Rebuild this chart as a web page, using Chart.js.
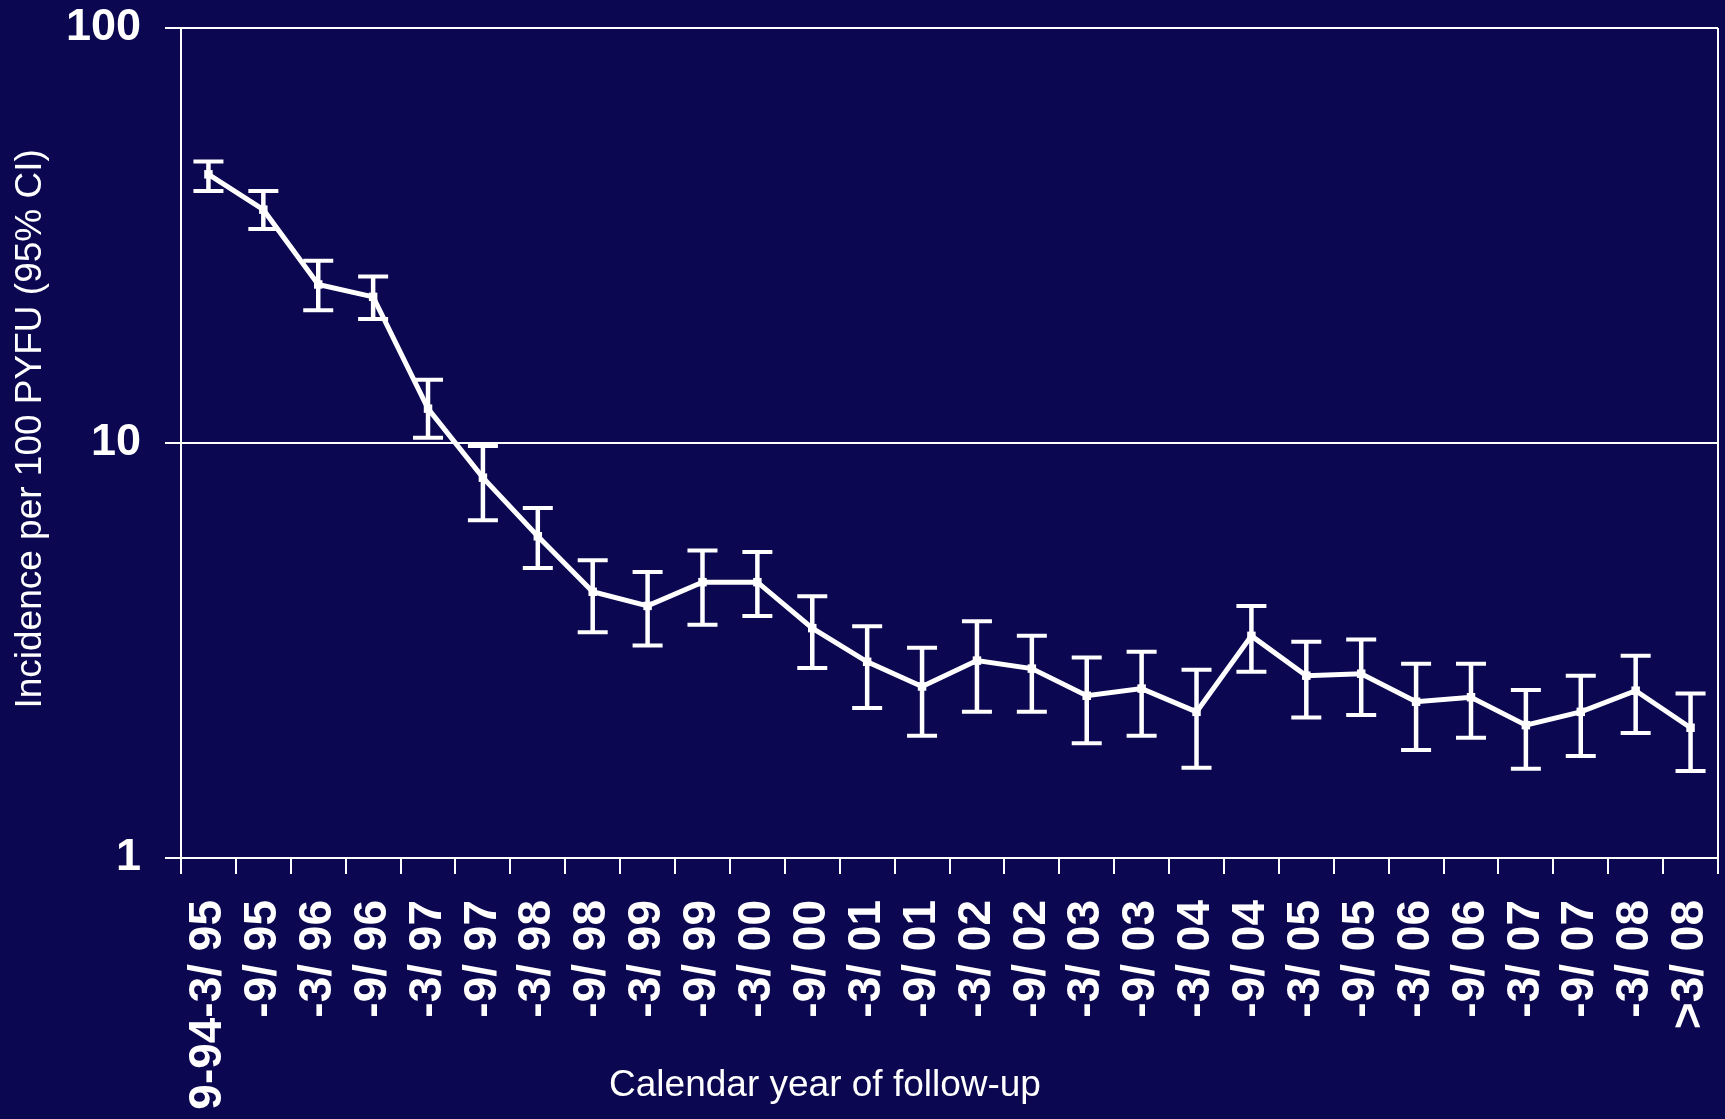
<!DOCTYPE html>
<html>
<head>
<meta charset="utf-8">
<script src="https://cdn.jsdelivr.net/npm/chart.js@4/dist/chart.umd.min.js"></script>
<style>
    html, body { margin: 0; padding: 0; background: #0b0750; }
    #wrap { width: 1725px; height: 1119px; position: relative; }
</style>
</head>
<body>
<div id="wrap"><canvas id="incidenceChart"></canvas></div>
<script>

const periods = [
    "9-94-3/ 95", "-9/ 95", "-3/ 96", "-9/ 96", "-3/ 97", "-9/ 97", "-3/ 98",
    "-9/ 98", "-3/ 99", "-9/ 99", "-3/ 00", "-9/ 00", "-3/ 01", "-9/ 01",
    "-3/ 02", "-9/ 02", "-3/ 03", "-9/ 03", "-3/ 04", "-9/ 04", "-3/ 05",
    "-9/ 05", "-3/ 06", "-9/ 06", "-3/ 07", "-9/ 07", "-3/ 08", ">3/ 08"
];

const incidence = [
    44.4, 36.5, 24.1, 22.5, 12.1, 8.25, 5.96, 4.38, 4.05, 4.62, 4.62, 3.58, 2.97, 2.59,
    2.99, 2.86, 2.46, 2.56, 2.25, 3.43, 2.75, 2.78, 2.38, 2.44, 2.09, 2.25, 2.53, 2.06
];

const ciLow = [
    40.5, 32.8, 20.9, 19.9, 10.3, 6.51, 5.00, 3.50, 3.25, 3.65, 3.83, 2.87, 2.30, 1.97,
    2.25, 2.25, 1.89, 1.97, 1.65, 2.81, 2.18, 2.21, 1.82, 1.95, 1.64, 1.76, 2.00, 1.62
];

const ciHigh = [
    47.7, 40.5, 27.5, 25.2, 14.2, 9.83, 6.97, 5.22, 4.89, 5.51, 5.46, 4.27, 3.62, 3.21,
    3.72, 3.43, 3.04, 3.14, 2.84, 4.05, 3.32, 3.36, 2.94, 2.94, 2.54, 2.75, 3.07, 2.49
];

const yTicks = [1, 10, 100];

const X_TITLE = "Calendar year of follow-up";
const Y_TITLE = "Incidence per 100 PYFU (95% CI)";

const WHITE = "#ffffff";
const FONT = "'Liberation Sans', Arial, sans-serif";

// error bars: drawn from the CI arrays through the chart's own scales
const errorBars = {
    id: "errorBars",
    afterDatasetsDraw(chart) {
        const ctx = chart.ctx;
        const xs = chart.scales.x;
        const ys = chart.scales.y;
        const cap = 15;
        ctx.save();
        ctx.strokeStyle = WHITE;
        ctx.lineCap = "butt";
        for (let i = 0; i < incidence.length; i++) {
            const x = xs.getPixelForValue(i);
            const yTop = ys.getPixelForValue(ciHigh[i]);
            const yBot = ys.getPixelForValue(ciLow[i]);
            ctx.lineWidth = 4.5;
            ctx.beginPath();
            ctx.moveTo(x, yTop);
            ctx.lineTo(x, yBot);
            ctx.stroke();
            ctx.lineWidth = 4;
            ctx.beginPath();
            ctx.moveTo(x - cap, yTop);
            ctx.lineTo(x + cap, yTop);
            ctx.moveTo(x - cap, yBot);
            ctx.lineTo(x + cap, yBot);
            ctx.stroke();
        }
        ctx.restore();
    }
};

// axis titles, placed where the original has them
const axisTitles = {
    id: "axisTitles",
    afterDraw(chart) {
        const ctx = chart.ctx;
        const area = chart.chartArea;
        ctx.save();
        ctx.fillStyle = WHITE;
        ctx.font = "37px " + FONT;
        ctx.textAlign = "center";
        ctx.textBaseline = "middle";
        ctx.fillText(X_TITLE, area.left + (area.right - area.left) * 0.419, 1086);
        ctx.translate(31, area.top + (area.bottom - area.top) * 0.483);
        ctx.rotate(-Math.PI / 2);
        ctx.fillText(Y_TITLE, 0, 0);
        ctx.restore();
    }
};

const bgFill = {
    id: "bgFill",
    beforeDraw(chart) {
        const ctx = chart.ctx;
        ctx.save();
        ctx.fillStyle = "#0b0750";
        ctx.fillRect(0, 0, chart.width, chart.height);
        ctx.restore();
    }
};

new Chart(document.getElementById("incidenceChart"), {
    type: "line",
    data: {
        labels: periods,
        datasets: [{
            data: incidence,
            borderColor: WHITE,
            borderWidth: 5,
            backgroundColor: WHITE,
            pointStyle: "rect",
            pointRadius: 6,
            pointBorderWidth: 0,
            tension: 0,
            clip: false
        }]
    },
    options: {
        responsive: true,
        maintainAspectRatio: false,
        animation: false,
        layout: {
            padding: { top: 28, right: 7, left: 0, bottom: 0 }
        },
        plugins: {
            legend: { display: false },
            tooltip: { enabled: false }
        },
        scales: {
            x: {
                type: "category",
                offset: true,
                afterFit(scale) {
                    scale.height = 261;
                    scale.paddingLeft = 0;
                    scale.paddingRight = 0;
                },
                border: { display: true, color: WHITE, width: 2 },
                grid: {
                    offset: true,
                    drawOnChartArea: true,
                    drawTicks: true,
                    tickLength: 16,
                    lineWidth: 2,
                    tickWidth: 2,
                    tickColor: WHITE,
                    color: c => c.type === "scale" ? WHITE : "rgba(0,0,0,0)"
                },
                ticks: {
                    color: WHITE,
                    autoSkip: false,
                    minRotation: 90,
                    maxRotation: 90,
                    padding: 26,
                    font: { family: FONT, size: 46, weight: "bold" }
                }
            },
            y: {
                type: "logarithmic",
                min: 1,
                max: 100,
                afterFit(scale) {
                    scale.width = 181;
                    scale.paddingTop = 0;
                    scale.paddingBottom = 0;
                },
                afterBuildTicks(scale) {
                    scale.ticks = yTicks.map(v => ({ value: v }));
                },
                border: { display: true, color: WHITE, width: 2 },
                grid: {
                    color: WHITE,
                    lineWidth: 2,
                    tickLength: 16,
                    tickColor: WHITE
                },
                ticks: {
                    color: WHITE,
                    padding: 24,
                    callback: v => String(v),
                    font: { family: FONT, size: 45, weight: "bold" }
                }
            }
        }
    },
    plugins: [bgFill, errorBars, axisTitles]
});
</script>
</body>
</html>
